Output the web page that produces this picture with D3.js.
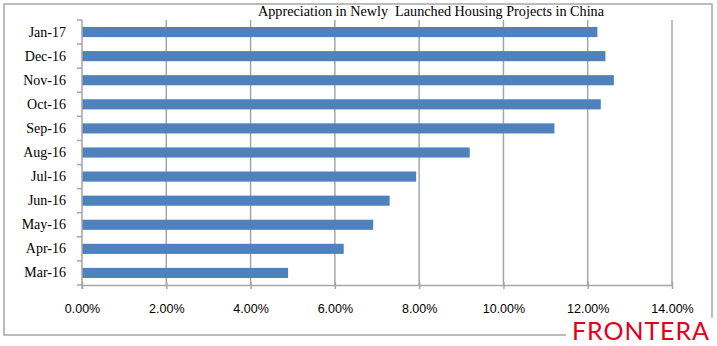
<!DOCTYPE html>
<html>
<head>
<meta charset="utf-8">
<script src="https://cdn.jsdelivr.net/npm/d3@7"></script>
<style>
  html, body { margin: 0; padding: 0; background: #fff; }
  svg { display: block; }
</style>
</head>
<body>
<svg id="chart" width="717" height="346"></svg>
<script>
const categories = ["Jan-17","Dec-16","Nov-16","Oct-16","Sep-16","Aug-16","Jul-16","Jun-16","May-16","Apr-16","Mar-16"];
const values = [12.23, 12.42, 12.62, 12.31, 11.21, 9.2, 7.93, 7.3, 6.91, 6.21, 4.89];
const xTicks = [0, 2, 4, 6, 8, 10, 12, 14];
const title = "Appreciation in Newly  Launched Housing Projects in China";
const brand = "FRONTERA";

const svg = d3.select("#chart");
const margin = { left: 82, right: 672, top: 20, bottom: 285 };

// outer border
svg.append("rect")
  .attr("x", 4).attr("y", 4).attr("width", 708).attr("height", 331)
  .attr("fill", "#fff").attr("stroke", "#a6a6a6").attr("stroke-width", 1.5);

const x = d3.scaleLinear().domain([0, 14]).range([margin.left, margin.right]);
const y = d3.scaleBand().domain(categories).range([margin.top, margin.bottom]).paddingInner(0.58).paddingOuter(0.29);
const yEdge = d3.scaleBand().domain(categories).range([margin.top, margin.bottom]);

// gridlines
svg.append("g").selectAll("line").data(xTicks.filter(d => d > 0)).join("line")
  .attr("x1", d => x(d)).attr("x2", d => x(d))
  .attr("y1", margin.top).attr("y2", margin.bottom)
  .attr("stroke", "#a6a6a6").attr("stroke-width", 1.5);

// bars
svg.append("g").selectAll("rect").data(categories).join("rect")
  .attr("x", x(0))
  .attr("y", d => y(d))
  .attr("width", (d, i) => x(values[i]) - x(0))
  .attr("height", y.bandwidth())
  .attr("fill", "#4f81bd");

// x axis
const xAxis = svg.append("g").attr("transform", `translate(0,${margin.bottom})`)
  .call(d3.axisBottom(x).tickValues(xTicks).tickSize(4).tickSizeOuter(0).tickFormat(d => d.toFixed(2) + "%"));
xAxis.select(".domain").attr("stroke", "#a6a6a6").attr("stroke-width", 1.5);
xAxis.selectAll(".tick line").attr("stroke", "#a6a6a6").attr("stroke-width", 1.5).attr("y1", -3).attr("y2", 4);
xAxis.selectAll(".tick text")
  .attr("font-family", "'Liberation Sans', Arial, sans-serif")
  .attr("font-size", 12.5).attr("fill", "#000").attr("y", 24).attr("dy", "0.32em");

// y axis
const yAxis = svg.append("g").attr("transform", `translate(${margin.left},0)`)
  .call(d3.axisLeft(y).tickSize(0).tickPadding(16));
yAxis.select(".domain").remove();
svg.append("line").attr("x1", margin.left).attr("x2", margin.left)
  .attr("y1", margin.top).attr("y2", margin.bottom + 4)
  .attr("stroke", "#a6a6a6").attr("stroke-width", 1.5);
const edges = categories.map(c => yEdge(c)).concat([margin.bottom]);
svg.append("g").selectAll("line").data(edges).join("line")
  .attr("x1", margin.left - 5).attr("x2", margin.left)
  .attr("y1", d => d).attr("y2", d => d)
  .attr("stroke", "#a6a6a6").attr("stroke-width", 1.5);
yAxis.selectAll(".tick text")
  .attr("font-family", "'Liberation Serif', 'Times New Roman', serif")
  .attr("font-size", 14).attr("fill", "#000");

// title
svg.append("text")
  .attr("x", 431).attr("y", 16)
  .attr("text-anchor", "middle")
  .attr("font-family", "'Liberation Serif', 'Times New Roman', serif")
  .attr("font-size", 14.2).attr("fill", "#000")
  .attr("xml:space", "preserve").style("white-space", "pre")
  .text(title);

// brand
svg.append("rect").attr("x", 566).attr("y", 318).attr("width", 151).attr("height", 28).attr("fill", "#fff");
svg.append("text")
  .attr("x", 572).attr("y", 340)
  .attr("font-family", "Lato, 'Noto Sans', sans-serif")
  .attr("font-size", 25).attr("fill", "#e2001a")
  .attr("textLength", 137).attr("lengthAdjust", "spacing")
  .text(brand);
</script>
</body>
</html>
